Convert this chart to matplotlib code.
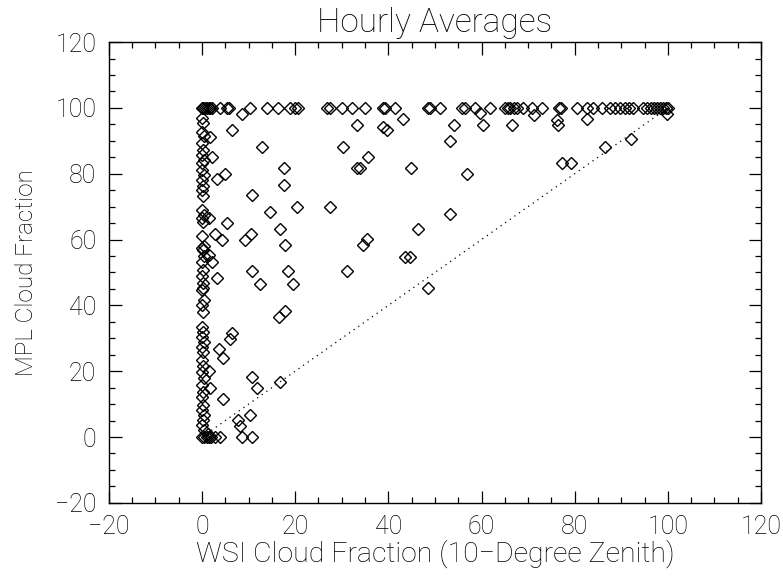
import matplotlib

matplotlib.use("Agg")
import matplotlib.pyplot as plt
from matplotlib.ticker import MultipleLocator

# points along the top edge (MPL = 100)
top_wsi = [0, 0.3, 0.6, 1.0, 1.4, 1.8, 2.2, 3.9, 5.4, 5.8, 10.3, 14.0, 16.3, 18.9,
           20.0, 20.6, 26.8, 27.5, 30.0, 32.2, 35.0, 38.9, 39.3, 41.4, 48.5, 49.0,
           51.1, 55.8, 56.5, 58.6, 61.8, 65.0, 65.7, 66.2, 67.0, 67.6, 69.0, 70.9,
           73.0, 76.6, 77.0, 80.5, 82.7, 84.0, 85.9, 87.6, 88.6, 89.8, 90.8, 91.7,
           92.5, 94.7, 95.5, 96.3, 97.0, 97.7, 98.4, 99.0, 99.5, 100.0]
top_mpl = [100.0] * len(top_wsi)

# points along the left edge (WSI near 0)
left_wsi = [0, 0.3, 0, 0.5, 0, 0.2, 0, 0.4, 0, 0, 0.5, 0, 0.3, 0, 0.2, 0, 0.4, 0,
            0.3, 0, 0.5, 0, 0.2, 0.4, 0, 0.3, 0, 0.2, 0, 0.5, 0, 0.3, 0, 0.2, 0,
            0.4, 0, 0.3, 0, 0.2, 0, 0.4, 0, 0.3, 0, 0.2, 0, 0.5, 0.3, 0]
left_mpl = [97.0, 95.4, 92.7, 91.5, 89.4, 87.2, 85.7, 84.2, 83.3, 81.2, 79.6,
            78.1, 76.3, 75.1, 73.3, 69.0, 67.5, 66.6, 65.3, 61.1, 58.1, 57.5,
            56.8, 55.0, 53.2, 50.8, 48.9, 46.8, 44.7, 41.6, 40.1, 38.0, 33.4,
            31.9, 30.4, 28.9, 27.4, 25.8, 23.4, 21.6, 19.8, 17.9, 15.8, 13.7,
            12.2, 9.7, 8.2, 6.7, 5.2, 3.6]

# points along the bottom edge (MPL near 0)
bottom_wsi = [0, 0.5, 1.0, 1.5, 2.0, 2.7, 3.9, 8.5, 10.7, 0.5, 1.2]
bottom_mpl = [0, 0, 0, 0, 0, 0, 0, 0, 0, 2.1, 0.8]

# scattered interior points
mid_wsi = [8.5, 6.4, 1.7, 12.8, 30.3, 2.1, 17.5, 33.2, 4.9, 3.2, 17.5, 10.7,
           20.3, 27.5, 14.6, 1.4, 5.3, 16.7, 2.8, 4.2, 9.2, 10.5, 17.8, 1.4,
           2.1, 10.7, 18.5, 31.1, 59.7, 43.2, 33.2, 38.9, 39.7, 54.0, 60.4,
           66.5, 53.3, 35.7, 33.9, 44.9, 56.8, 53.3, 46.3, 35.4, 34.6, 43.6,
           44.7, 71.2, 99.8, 76.2, 76.5, 82.6, 92.1, 86.4, 77.2, 79.2, 3.2,
           12.5, 19.6, 0.3, 17.8, 16.6, 6.4, 6.0, 3.7, 4.6, 1.4, 10.7, 16.7,
           11.7, 1.7, 4.6, 10.3, 7.7, 8.2, 48.6]
mid_mpl = [98.2, 93.3, 91.3, 88.2, 88.2, 85.2, 81.6, 81.6, 79.9, 78.3, 76.6,
           73.4, 70.0, 70.0, 68.3, 66.5, 65.1, 63.2, 61.7, 59.9, 59.9, 61.7,
           58.4, 55.3, 53.3, 50.4, 50.4, 50.4, 98.4, 96.6, 94.8, 94.3, 93.3,
           94.8, 94.8, 94.8, 89.8, 85.0, 81.6, 81.6, 79.8, 67.8, 63.1, 60.1,
           58.2, 54.8, 54.8, 97.9, 98.2, 96.4, 94.8, 96.6, 90.6, 88.0, 83.2,
           83.2, 48.2, 46.5, 46.5, 45.2, 38.4, 36.6, 31.7, 29.8, 26.7, 23.9,
           20.1, 18.1, 16.6, 15.0, 14.8, 11.5, 6.7, 5.2, 3.3, 45.4]

wsi = top_wsi + left_wsi + bottom_wsi + mid_wsi
mpl = top_mpl + left_mpl + bottom_mpl + mid_mpl

plt.rcParams["font.family"] = ["Roboto", "DejaVu Sans"]
plt.rcParams["font.weight"] = "light"
plt.rcParams["axes.labelweight"] = "light"
plt.rcParams["axes.titleweight"] = "light"

fig = plt.figure(figsize=(7.83, 5.76), dpi=100)
ax = fig.add_axes([0.139, 0.127, 0.833, 0.80])

ax.plot([0, 100], [0, 100], color="black", lw=0.9, linestyle=(0, (1, 3.5)))
ax.plot(wsi, mpl, linestyle="none", marker="D", markersize=6.0,
        markerfacecolor="none", markeredgecolor="black", markeredgewidth=1.0)

ax.set_xlim(-20, 120)
ax.set_ylim(-20, 120)
ax.xaxis.set_major_locator(MultipleLocator(20))
ax.yaxis.set_major_locator(MultipleLocator(20))
ax.xaxis.set_minor_locator(MultipleLocator(5))
ax.yaxis.set_minor_locator(MultipleLocator(5))
ax.tick_params(which="both", direction="in", top=True, right=True, width=0.9,
               labelsize=18, colors="black")
ax.tick_params(which="major", length=9, pad=9)
ax.tick_params(which="minor", length=4.5)
for s in ax.spines.values():
    s.set_linewidth(1.0)

ax.set_xlabel("WSI Cloud Fraction (10\u2212Degree Zenith)", fontsize=20.5, labelpad=0)
ax.set_ylabel("MPL Cloud Fraction", fontsize=17.5, labelpad=12)
ax.set_title("Hourly Averages", fontsize=24, pad=7)

fig.savefig("out.png", dpi=100)
